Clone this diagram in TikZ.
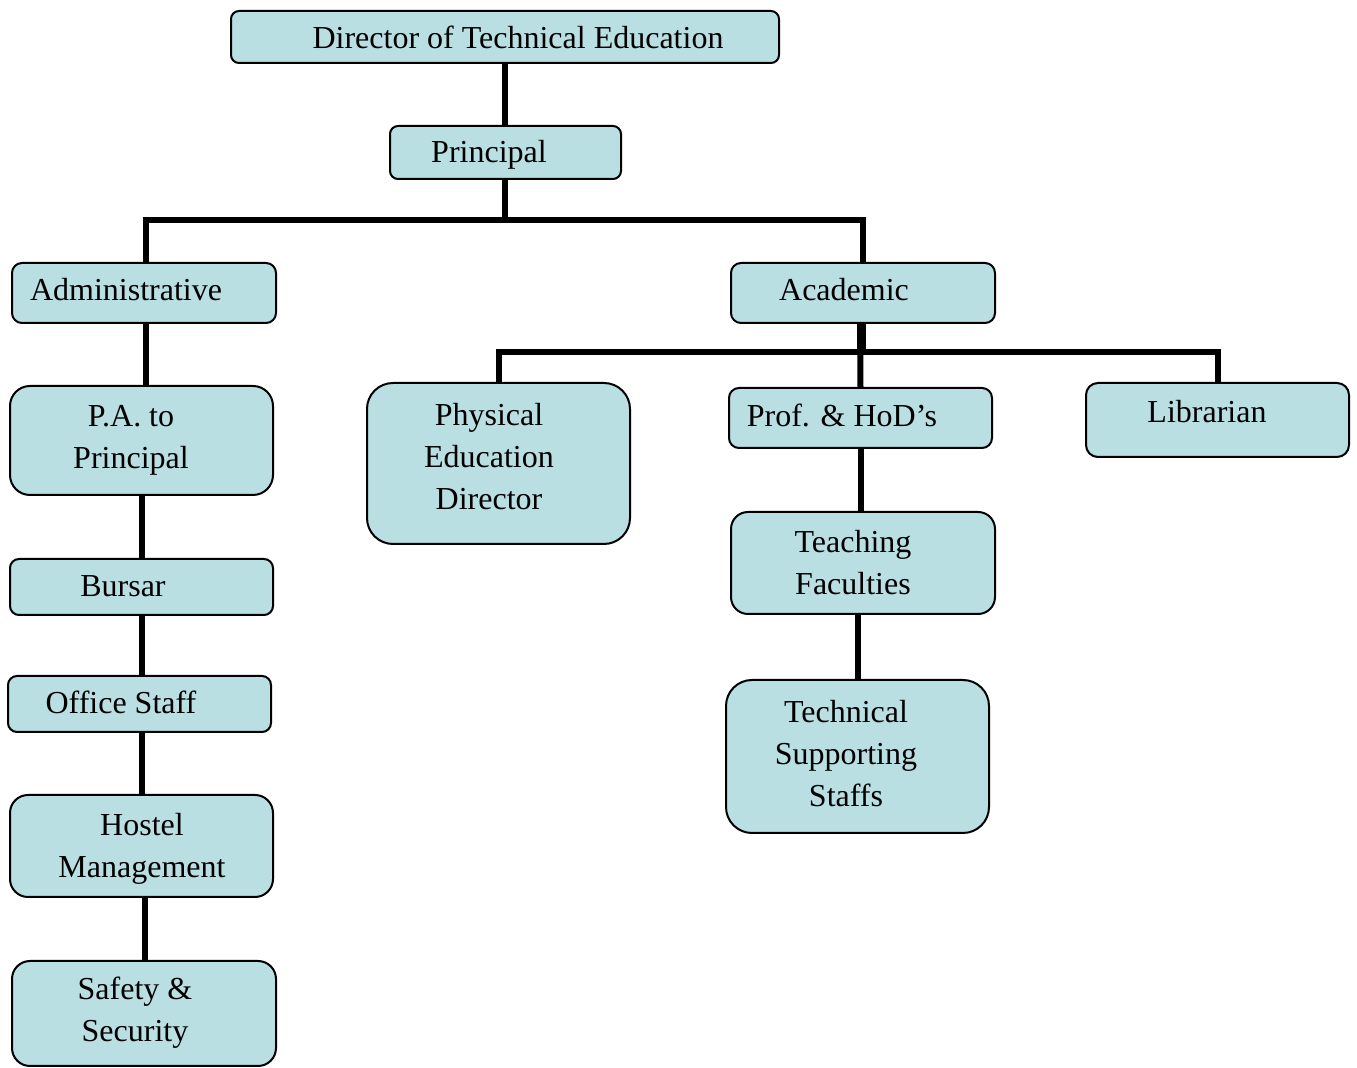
\documentclass[tikz,border=0pt]{standalone}
\usepackage{fontspec}
\setmainfont{Liberation Serif}
\usetikzlibrary{fit}
\definecolor{boxfill}{HTML}{BADFE2}
\begin{document}
\begin{tikzpicture}[x=0.5pt,y=-0.5pt,
  box/.style={draw=black, line width=1pt, fill=boxfill, rounded corners=#1, inner sep=0pt},
  txt/.style={font=\fontsize{16pt}{21pt}\selectfont, align=center, inner sep=0pt},
  conn/.style={line width=3pt, draw=black}]
\useasboundingbox (0,0) rectangle (1357,1068);
% boxes
\node[box=4pt, fit={(231,11) (779,63)}] (dir) {};
\node[box=4pt, fit={(390,126) (621,179)}] (prin) {};
\node[box=5pt, fit={(12,263) (276,323)}] (adm) {};
\node[box=5pt, fit={(731,263) (995,323)}] (acad) {};
\node[box=10pt, fit={(10,386) (273,495)}] (pa) {};
\node[box=4.5pt, fit={(10,559) (273,615)}] (bur) {};
\node[box=4.5pt, fit={(8,676) (271,732)}] (off) {};
\node[box=9pt, fit={(10,795) (273,897)}] (hos) {};
\node[box=9pt, fit={(12,961) (276,1066)}] (saf) {};
\node[box=13pt, fit={(367,383) (630,544)}] (phy) {};
\node[box=5pt, fit={(729,388) (992,448)}] (prof) {};
\node[box=6pt, fit={(1086,383) (1349,457)}] (lib) {};
\node[box=8.5pt, fit={(731,512) (995,614)}] (tea) {};
\node[box=13pt, fit={(726,680) (989,833)}] (tec) {};
% texts
\node[txt] (dirT) at (518,37) {Director of Technical Education};
\node[txt] (prinT) at (489,155) {Principal};
\node[txt] (admT) at (126,290) {Administrative};
\node[txt] (acadT) at (844,290) {Academic};
\node[txt] (paT) at (131,440) {P.A. to\\Principal};
\node[txt] (burT) at (123,586) {Bursar};
\node[txt] (offT) at (121,702) {Office Staff};
\node[txt] (hosT) at (142,849) {Hostel\\Management};
\node[txt] (safT) at (135,1013) {Safety \&\\Security};
\node[txt] (phyT) at (489,457) {Physical\\Education\\Director};
\node[txt] (profT) at (842,415) {Prof. \& HoD’s};
\node[txt] (libT) at (1207,412) {Librarian};
\node[txt] (teaT) at (853,563) {Teaching\\Faculties};
\node[txt] (tecT) at (846,754) {Technical\\Supporting\\Staffs};
% junctions
\coordinate (j1) at (505,220);
\coordinate (j2) at (860,352);
% connectors
\draw[conn] (dir.south) -- (dir.south |- prin.north);
\draw[conn] (j1 |- prin.south) -- (j1);
\draw[conn] (adm.north) ++(2,0) |- (j1) -| (acad.north);
\draw[conn] (adm.south) ++(2,0) -- ++(0,63);
\draw[conn] (pa.south) -- (pa.south |- bur.north);
\draw[conn] (bur.south) -- (bur.south |- off.north);
\draw[conn] (off.south) ++(2.5,0) -- ++(0,63);
\draw[conn] (hos.south) ++(3.5,0) -- ++(0,64);
\draw[conn] (acad.south) -- (acad.south |- j2);
\draw[conn] (j2 |- acad.south) -- (prof.north);
\draw[conn] (phy.north) |- (j2) -| (lib.north);
\draw[conn] (prof.south) -- (prof.south |- tea.north);
\draw[conn] (tec.north |- tea.south) -- (tec.north);
\end{tikzpicture}
\end{document}
